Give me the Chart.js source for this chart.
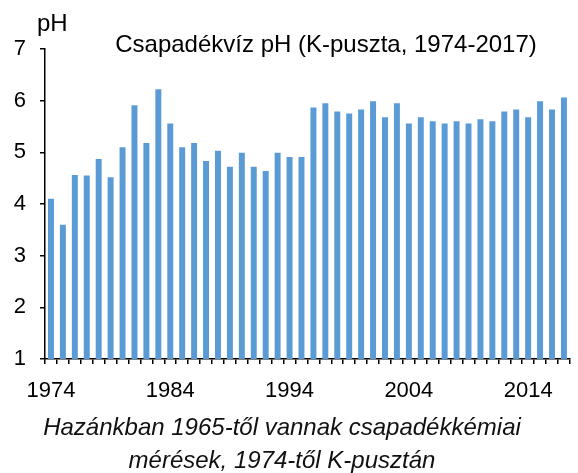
<!DOCTYPE html>
<html>
<head>
<meta charset="utf-8">
<script src="https://cdn.jsdelivr.net/npm/chart.js@4"></script>
<style>
  html, body { margin: 0; padding: 0; background: #fff; }
  #wrap { width: 578px; height: 473px; position: relative; }
</style>
</head>
<body>
<div id="wrap"><canvas id="phChart"></canvas></div>
<script>
const years = [];
for (let y = 1974; y <= 2017; y++) years.push(String(y));

const phValues = [
  4.10, 3.60, 4.56, 4.55, 4.87, 4.52, 5.10, 5.91, 5.18, 6.22,
  5.56, 5.10, 5.18, 4.83, 5.03, 4.72, 4.99, 4.72, 4.64, 4.99,
  4.91, 4.91, 5.87, 5.95, 5.79, 5.75, 5.83, 5.99, 5.68, 5.95,
  5.56, 5.68, 5.60, 5.56, 5.60, 5.56, 5.64, 5.60, 5.79, 5.83,
  5.68, 5.99, 5.83, 6.06
];

const labeledYears = ["1974", "1984", "1994", "2004", "2014"];

const chartTitle = "Csapadékvíz pH (K-puszta, 1974-2017)";
const unitLabel = "pH";
const caption = [
  "Hazánkban 1965-től vannak csapadékkémiai",
  "mérések, 1974-től K-pusztán"
];

const textPlugin = {
  id: "texts",
  afterDraw(chart) {
    const { ctx } = chart;
    ctx.save();
    ctx.fillStyle = "#000";
    ctx.textBaseline = "alphabetic";
    ctx.font = "24px 'Liberation Sans', Arial, sans-serif";
    ctx.textAlign = "left";
    ctx.fillText(unitLabel, 37, 31);
    ctx.textAlign = "center";
    ctx.fillText(chartTitle, 326, 52);
    ctx.font = "italic 24px 'Liberation Sans', Arial, sans-serif";
    ctx.fillStyle = "#111";
    ctx.fillText(caption[0], 282, 435);
    ctx.fillText(caption[1], 282, 468);
    ctx.restore();
  }
};

new Chart(document.getElementById("phChart"), {
  type: "bar",
  data: {
    labels: years,
    datasets: [
      {
        data: phValues,
        backgroundColor: "#5b9bd5",
        borderWidth: 0,
        barPercentage: 0.5,
        categoryPercentage: 1.0,
      },
    ],
  },
  options: {
    responsive: true,
    maintainAspectRatio: false,
    animation: false,
    layout: { padding: { top: 49, right: 5, left: 0, bottom: 0 } },
    scales: {
      x: {
        afterFit: (s) => { s.height = 114; },
        grid: {
          display: true,
          drawOnChartArea: false,
          drawTicks: true,
          tickLength: 5,
          color: "#000",
          lineWidth: 1.5,
          offset: true,
        },
        border: { display: true, color: "#000", width: 1.5 },
        ticks: {
          autoSkip: false,
          maxRotation: 0,
          padding: 14,
          color: "#000",
          font: { family: "'Liberation Sans', Arial, sans-serif", size: 22 },
          callback: function (value) {
            const lab = this.getLabelForValue(value);
            return labeledYears.includes(lab) ? lab : "";
          },
        },
      },
      y: {
        min: 1,
        max: 7,
        afterFit: (s) => { s.width = 45; },
        grid: {
          display: true,
          drawOnChartArea: false,
          drawTicks: true,
          tickLength: 5,
          color: "#000",
          lineWidth: 1.5,
        },
        border: { display: true, color: "#000", width: 1.5 },
        ticks: {
          stepSize: 1,
          padding: 14,
          color: "#000",
          font: { family: "'Liberation Sans', Arial, sans-serif", size: 22 },
        },
      },
    },
    plugins: {
      legend: { display: false },
      tooltip: { enabled: false },
    },
  },
  plugins: [textPlugin],
});
</script>
</body>
</html>
